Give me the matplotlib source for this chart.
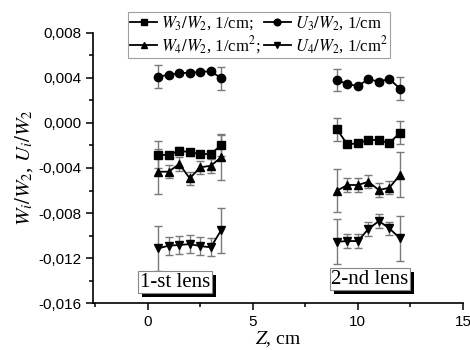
import numpy as np
import matplotlib
matplotlib.use("Agg")
import matplotlib.pyplot as plt
from matplotlib.ticker import MultipleLocator, FuncFormatter
import matplotlib.patheffects as pe

plt.rcParams['mathtext.fontset'] = 'stix'
plt.rcParams['font.family'] = 'Liberation Serif'

# z positions inside the two lenses
z1 = [0.5, 1.0, 1.5, 2.0, 2.5, 3.0, 3.5]
z2 = [9.0, 9.5, 10.0, 10.5, 11.0, 11.5, 12.0]

# W3/W2, 1/cm
w3_1 = [-0.00284, -0.00284, -0.00246, -0.00260, -0.00276, -0.00276, -0.00196]
w3_1_err = [0.0012, 0.0003, 0.0003, 0.0003, 0.0003, 0.0003, 0.0010]
w3_2 = [-0.00056, -0.00190, -0.00180, -0.00151, -0.00151, -0.00180, -0.00086]
w3_2_err = [0.0010, 0.0002, 0.0002, 0.0002, 0.0002, 0.0002, 0.0010]

# U3/W2, 1/cm
u3_1 = [0.00412, 0.00427, 0.00442, 0.00447, 0.00453, 0.00460, 0.00397]
u3_1_err = [0.0010, 0.0002, 0.0002, 0.0002, 0.0002, 0.0002, 0.0010]
u3_2 = [0.00382, 0.00344, 0.00329, 0.00388, 0.00367, 0.00391, 0.00305]
u3_2_err = [0.0010, 0.0002, 0.0002, 0.0002, 0.0002, 0.0002, 0.0010]

# W4/W2, 1/cm^2
w4_1 = [-0.00433, -0.00433, -0.00364, -0.00492, -0.00394, -0.00380, -0.00305]
w4_1_err = [0.0020, 0.0006, 0.0006, 0.0006, 0.0006, 0.0006, 0.0020]
w4_2 = [-0.00602, -0.00551, -0.00551, -0.00522, -0.00596, -0.00575, -0.00462]
w4_2_err = [0.0019, 0.0006, 0.0006, 0.0006, 0.0006, 0.0006, 0.0020]

# U4/W2, 1/cm^2
u4_1 = [-0.01114, -0.01090, -0.01084, -0.01076, -0.01093, -0.01105, -0.00951]
u4_1_err = [0.0020, 0.0008, 0.0008, 0.0008, 0.0008, 0.0008, 0.0020]
u4_2 = [-0.01055, -0.01049, -0.01049, -0.00942, -0.00871, -0.00936, -0.01025]
u4_2_err = [0.0020, 0.0006, 0.0006, 0.0006, 0.0006, 0.0006, 0.0020]

# listed column by column so the legend reads row by row
series = [
    (w3_1, w3_1_err, w3_2, w3_2_err, 's', r'$W_3/W_2$, 1/cm;'),
    (w4_1, w4_1_err, w4_2, w4_2_err, '^', r'$W_4/W_2$, 1/cm$^2$;'),
    (u3_1, u3_1_err, u3_2, u3_2_err, 'o', r'$U_3/W_2$, 1/cm'),
    (u4_1, u4_1_err, u4_2, u4_2_err, 'v', r'$U_4/W_2$, 1/cm$^2$'),
]

fig = plt.figure(figsize=(4.7, 3.5), dpi=100)
ax = fig.add_axes([0.198, 0.134, 0.787, 0.772])

handles = []
for y1, e1, y2, e2, mk, lab in series:
    for zz, yy, ee in ((z1, y1, e1), (z2, y2, e2)):
        ax.errorbar(zz, yy, yerr=ee, fmt='none', ecolor='#7a7a7a',
                    elinewidth=1.0, capsize=3, capthick=1.0, zorder=2)
        ln, = ax.plot(zz, yy, color='black', marker=mk, markersize=6,
                      linewidth=1.3, zorder=3)
    handles.append((ln, lab))

ax.set_xlim(-2.6, 15)
ax.set_ylim(-0.016, 0.008)
ax.spines['top'].set_visible(False)
ax.spines['right'].set_visible(False)
ax.spines['left'].set_linewidth(1.2)
ax.spines['bottom'].set_linewidth(1.2)

ax.xaxis.set_major_locator(MultipleLocator(5))
ax.xaxis.set_minor_locator(MultipleLocator(2.5))
ax.yaxis.set_major_locator(MultipleLocator(0.004))
ax.yaxis.set_minor_locator(MultipleLocator(0.002))
ax.yaxis.set_major_formatter(FuncFormatter(lambda v, p: ('%.3f' % v).replace('.', ',').replace('-0,000', '0,000')))
ax.tick_params(which='major', direction='out', length=5, width=1.1)
ax.tick_params(which='minor', direction='out', length=3, width=1.1)
for t in ax.get_xticklabels() + ax.get_yticklabels():
    t.set_fontfamily('Liberation Sans')
    t.set_fontsize(11)

ax.set_xlabel(r'$Z$, cm', fontsize=14, labelpad=0)
ax.set_ylabel(r'$W_i/W_2$, $U_i/W_2$', fontsize=15, labelpad=2)

leg = fig.legend([h for h, l in handles], [l for h, l in handles], ncol=2,
                 loc='upper left', bbox_to_anchor=(0.272, 0.966), fontsize=12,
                 frameon=True, fancybox=False, edgecolor='#888888',
                 handlelength=1.6, handletextpad=0.25, columnspacing=0.2,
                 borderpad=0.15, labelspacing=0.1, markerscale=0.8,
                 borderaxespad=0)
leg.get_frame().set_linewidth(0.8)

box_style = dict(boxstyle='square,pad=0.08', facecolor='white', edgecolor='#888888', linewidth=0.8)
for xx, yy, txt in ((1.3, -0.01413, '1-st lens'), (10.57, -0.01387, '2-nd lens')):
    t = ax.text(xx, yy, txt, fontsize=15, ha='center', va='center', bbox=box_style, zorder=5)
    t.get_bbox_patch().set_path_effects([pe.SimplePatchShadow(offset=(3, -3), shadow_rgbFace='black', alpha=1.0), pe.Normal()])

fig.savefig('out.png', dpi=100)
